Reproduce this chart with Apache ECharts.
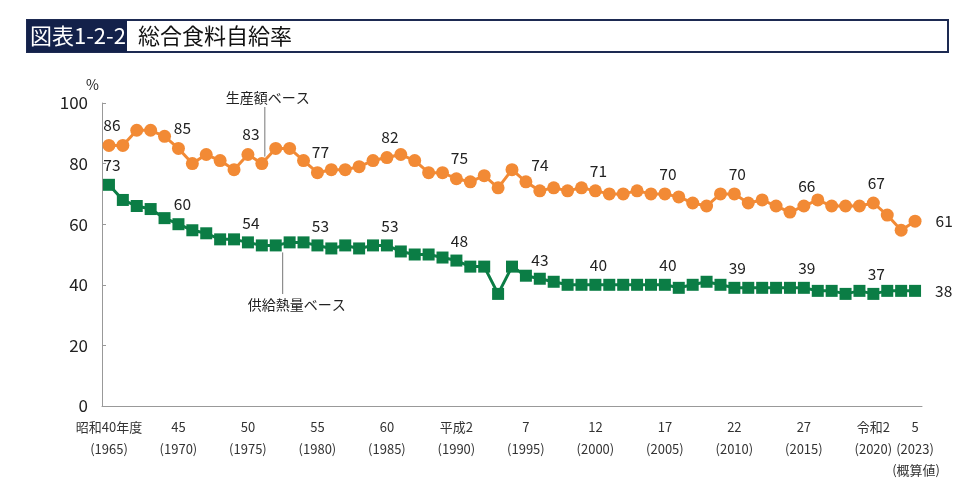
<!DOCTYPE html>
<html><head><meta charset="utf-8">
<script src="https://cdn.jsdelivr.net/npm/echarts@6/dist/echarts.min.js"></script>
<style>html,body{margin:0;padding:0;background:#fff}#c{width:972px;height:481px}</style>
</head><body><div id="c"></div>
<script>
var years = [];
for (var y = 1965; y <= 2023; y++) years.push(String(y));
var eraLabels = {"1965":"昭和40年度","1970":"45","1975":"50","1980":"55","1985":"60","1990":"平成2","1995":"7","2000":"12","2005":"17","2010":"22","2015":"27","2020":"令和2","2023":"5"};
var productionBase = [86,86,91,91,89,85,80,83,81,78,83,80,85,85,81,77,78,78,79,81,82,83,81,77,77,75,74,76,72,78,74,71,72,71,72,71,70,70,71,70,70,69,67,66,70,70,67,68,66,64,66,68,66,66,66,67,63,58,61];
var calorieBase = [73,68,66,65,62,60,58,57,55,55,54,53,53,54,54,53,52,53,52,53,53,51,50,50,49,48,46,46,37,46,43,42,41,40,40,40,40,40,40,40,40,39,40,41,40,39,39,39,39,39,39,38,38,37,38,37,38,38,38];
var labeledYears = ["1965","1970","1975","1980","1985","1990","1995","2000","2005","2010","2015","2020","2023"];

var ORANGE = '#F28A35', GREEN = '#0B7D45';
function buildData(vals) {
  return vals.map(function (v, i) {
    var yr = years[i];
    var item = {value: v};
    if (labeledYears.indexOf(yr) >= 0) {
      if (yr === "2023") item.label = {show: true, position: 'right', distance: 14};
      else if (yr === "1995") item.label = {show: true, position: 'top', offset: [14, 4]};
      else if (yr === "1970") item.label = {show: true, position: 'top', offset: [4, 0]};
      else item.label = {show: true, position: 'top', offset: [3, 0]};
    }
    return item;
  });
}
var chart = echarts.init(document.getElementById('c'));
var FONT = '"Noto Sans CJK JP", "Noto Sans", sans-serif';
chart.setOption({
  animation: false,
  textStyle: {fontFamily: FONT},
  grid: {left: 102, right: 50, top: 103, bottom: 75},
  xAxis: {
    type: 'category', data: years, boundaryGap: true,
    axisLine: {lineStyle: {color: '#999', width: 1}},
    axisTick: {show: false},
    axisLabel: {
      interval: function (i, v) { return eraLabels[v] !== undefined; },
      showMaxLabel: true, showMinLabel: true, hideOverlap: false,
      fontSize: 13, color: '#333', lineHeight: 22, margin: 10, fontFamily: FONT,
      formatter: function (v) {
        return eraLabels[v] + '\n(' + v + ')';
      }
    }
  },
  yAxis: {
    type: 'value', min: 0, max: 100, interval: 20,
    axisLine: {show: true, lineStyle: {color: '#999', width: 1}},
    axisTick: {show: true, inside: true, length: 4, lineStyle: {color: '#999'}},
    splitLine: {show: false},
    axisLabel: {fontSize: 17, color: '#222', margin: 14, fontFamily: FONT}
  },
  series: [
    {name: '生産額ベース', type: 'line', data: buildData(productionBase),
     symbol: 'circle', symbolSize: 13, showSymbol: true, showAllSymbol: true, itemStyle: {color: ORANGE},
     lineStyle: {color: ORANGE, width: 3},
     label: {fontSize: 15.5, color: '#222', distance: 6, fontFamily: FONT}},
    {name: '供給熱量ベース', type: 'line', data: buildData(calorieBase),
     symbol: 'rect', symbolSize: 12, showSymbol: true, showAllSymbol: true, itemStyle: {color: GREEN},
     lineStyle: {color: GREEN, width: 3},
     label: {fontSize: 15.5, color: '#222', distance: 6, fontFamily: FONT}}
  ]
});
var p1 = chart.convertToPixel({gridIndex: 0}, [11, productionBase[11]]);
var g1 = chart.convertToPixel({gridIndex: 0}, [12, calorieBase[12]]);
var g2 = chart.convertToPixel({gridIndex: 0}, [13, calorieBase[13]]);
var last = chart.convertToPixel({gridIndex: 0}, [58, 0]);
var gx = (g1[0] + g2[0]) / 2;
chart.setOption({
  graphic: [
    {type: 'rect', shape: {x: 27, y: 20, width: 921, height: 32}, style: {fill: '#fff', stroke: '#1d2a52', lineWidth: 2}},
    {type: 'rect', shape: {x: 27, y: 20, width: 100, height: 32}, style: {fill: '#13214a'}},
    {type: 'text', x: 30, y: 36, style: {text: '図表1-2-2', fill: '#fff', font: '22px ' + FONT, verticalAlign: 'middle'}},
    {type: 'text', x: 138, y: 36, style: {text: '総合食料自給率', fill: '#111', font: '22px ' + FONT, verticalAlign: 'middle'}},
    {type: 'text', x: 86, y: 85, style: {text: '%', fill: '#222', font: '14px ' + FONT, verticalAlign: 'middle'}},
    {type: 'text', x: last[0] + 1, y: last[1] + 64, style: {text: '(概算値)', fill: '#333', font: '13px ' + FONT, align: 'center', verticalAlign: 'middle'}},
    {type: 'text', x: p1[0] + 6, y: 98, style: {text: '生産額ベース', fill: '#222', font: '14px ' + FONT, align: 'center', verticalAlign: 'middle'}},
    {type: 'line', shape: {x1: p1[0] + 3, y1: 107, x2: p1[0] + 3, y2: p1[1] - 7}, style: {stroke: '#777', lineWidth: 1}},
    {type: 'text', x: gx + 14, y: 305, style: {text: '供給熱量ベース', fill: '#222', font: '14px ' + FONT, align: 'center', verticalAlign: 'middle'}},
    {type: 'line', shape: {x1: gx, y1: g1[1] + 7, x2: gx, y2: 294}, style: {stroke: '#777', lineWidth: 1}}
  ]
});
</script></body></html>
